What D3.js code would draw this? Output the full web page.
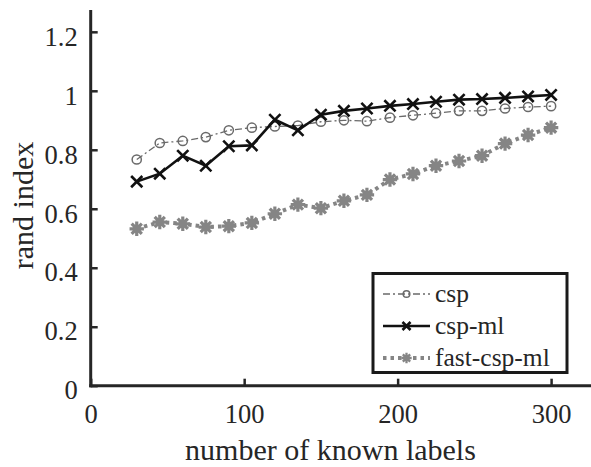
<!DOCTYPE html>
<html>
<head>
<meta charset="utf-8">
<script src="https://cdn.jsdelivr.net/npm/d3@7"></script>
<style>
  html, body { margin: 0; padding: 0; background: #fff; }
  svg { display: block; }
  svg text { font-family: "Liberation Serif", Tinos, "Times New Roman", Times, "Nimbus Roman", "DejaVu Serif", serif; fill: #262626; }
</style>
</head>
<body>
<svg id="chart" width="591" height="467"></svg>
<script>
const knownLabels = [30, 45, 60, 75, 90, 105, 120, 135, 150, 165, 180, 195, 210, 225, 240, 255, 270, 285, 300];
const csp = [0.767, 0.823, 0.830, 0.843, 0.866, 0.875, 0.879, 0.882, 0.895, 0.900, 0.897, 0.909, 0.917, 0.924, 0.932, 0.932, 0.940, 0.945, 0.948];
const cspMl = [0.692, 0.719, 0.780, 0.746, 0.812, 0.815, 0.902, 0.866, 0.919, 0.932, 0.940, 0.949, 0.955, 0.963, 0.970, 0.972, 0.976, 0.981, 0.986];
const fastCspMl = [0.532, 0.555, 0.549, 0.538, 0.541, 0.552, 0.583, 0.614, 0.602, 0.627, 0.647, 0.699, 0.718, 0.746, 0.762, 0.780, 0.821, 0.850, 0.875];
const seriesNames = ["csp", "csp-ml", "fast-csp-ml"];
const xTicks = [0, 100, 200, 300];
const yTicks = [0, 0.2, 0.4, 0.6, 0.8, 1, 1.2];

const svg = d3.select("#chart");
const x = d3.scaleLinear().domain([0, 326]).range([90.7, 591]);
const y = d3.scaleLinear().domain([0, 1.274]).range([385.7, 10]);
const axisColor = "#262626";
const serif = '"Liberation Serif", Tinos, "Times New Roman", Times, "Nimbus Roman", "DejaVu Serif", serif';

const series = [
  { name: seriesNames[0], values: csp, color: "#6a6a6a", width: 1.3, dash: "7,3,2,3", marker: "circle" },
  { name: seriesNames[1], values: cspMl, color: "#111", width: 2.6, dash: null, marker: "x" },
  { name: seriesNames[2], values: fastCspMl, color: "#858585", width: 4, dash: "3.5,4", marker: "star" }
];

function drawMarker(g, type, cx, cy, color, scale) {
  if (type === "circle") {
    g.append("circle").attr("cx", cx).attr("cy", cy).attr("r", 4.6 * scale)
      .attr("fill", "none").attr("stroke", color).attr("stroke-width", 1.5);
  } else if (type === "x") {
    const s = 5.6 * scale;
    g.append("path").attr("d", `M${cx - s},${cy - s}L${cx + s},${cy + s}M${cx - s},${cy + s}L${cx + s},${cy - s}`)
      .attr("stroke", color).attr("stroke-width", 2.6).attr("fill", "none");
  } else {
    const r = 7.2 * scale;
    let d = "";
    for (let k = 0; k < 4; k++) {
      const a = k * Math.PI / 4;
      d += `M${cx - r * Math.cos(a)},${cy - r * Math.sin(a)}L${cx + r * Math.cos(a)},${cy + r * Math.sin(a)}`;
    }
    g.append("circle").attr("cx", cx).attr("cy", cy).attr("r", 4 * scale).attr("fill", color);
    g.append("path").attr("d", d).attr("stroke", color).attr("stroke-width", 3.2 * scale).attr("fill", "none");
  }
}

// series
const line = d3.line().x(d => x(d[0])).y(d => y(d[1]));
series.forEach(s => {
  const pts = knownLabels.map((k, i) => [k, s.values[i]]);
  const g = svg.append("g");
  g.append("path").datum(pts).attr("d", line).attr("fill", "none")
    .attr("stroke", s.color).attr("stroke-width", s.width)
    .attr("stroke-dasharray", s.dash);
  pts.forEach(p => drawMarker(g, s.marker, x(p[0]), y(p[1]), s.color, 1));
});

// axes
const xAxis = d3.axisBottom(x).tickValues(xTicks).tickSize(-7).tickPadding(15).tickFormat(d3.format("d"));
const gx = svg.append("g").attr("transform", `translate(0,${y(0)})`).call(xAxis)
  .attr("font-family", serif).attr("font-size", 26.5);
gx.select(".domain").attr("d", `M${x(0) - 1.5},0H591`).attr("stroke", axisColor).attr("stroke-width", 3);
gx.selectAll(".tick line").attr("stroke", axisColor).attr("stroke-width", 2.5);
gx.selectAll(".tick text").attr("fill", axisColor).attr("dy", "0.85em");

const yAxis = d3.axisLeft(y).tickValues(yTicks).tickSize(-7).tickPadding(13).tickFormat(d => d3.format("~g")(d));
const gy = svg.append("g").attr("transform", `translate(${x(0)},0)`).call(yAxis)
  .attr("font-family", serif).attr("font-size", 26.5);
gy.select(".domain").attr("d", `M0,${y(0) + 1.5}V10`).attr("stroke", axisColor).attr("stroke-width", 3);
gy.selectAll(".tick line").attr("stroke", axisColor).attr("stroke-width", 2.5);
gy.selectAll(".tick text").attr("fill", axisColor).attr("dy", "0.5em");

// axis titles
svg.append("text").attr("x", 330.5).attr("y", 460).attr("text-anchor", "middle")
  .attr("font-size", 30).text("number of known labels");
svg.append("text").attr("transform", "translate(32.5,205.5) rotate(-90)").attr("text-anchor", "middle")
  .attr("font-size", 30).text("rand index");

// legend
const lg = svg.append("g");
lg.append("rect").attr("x", 373).attr("y", 273.5).attr("width", 194).attr("height", 99)
  .attr("fill", "#fff").attr("stroke", "#1a1a1a").attr("stroke-width", 3);
const rows = [302, 334, 366];
series.forEach((s, i) => {
  const cy = rows[i] - 8;
  lg.append("line").attr("x1", 383).attr("x2", 430).attr("y1", cy).attr("y2", cy)
    .attr("stroke", s.color).attr("stroke-width", s.width).attr("stroke-dasharray", s.dash);
  drawMarker(lg, s.marker, 406.5, cy, s.color, 0.72);
  lg.append("text").attr("x", 435).attr("y", rows[i]).attr("font-size", 25.5).text(s.name);
});
</script>
</body>
</html>
